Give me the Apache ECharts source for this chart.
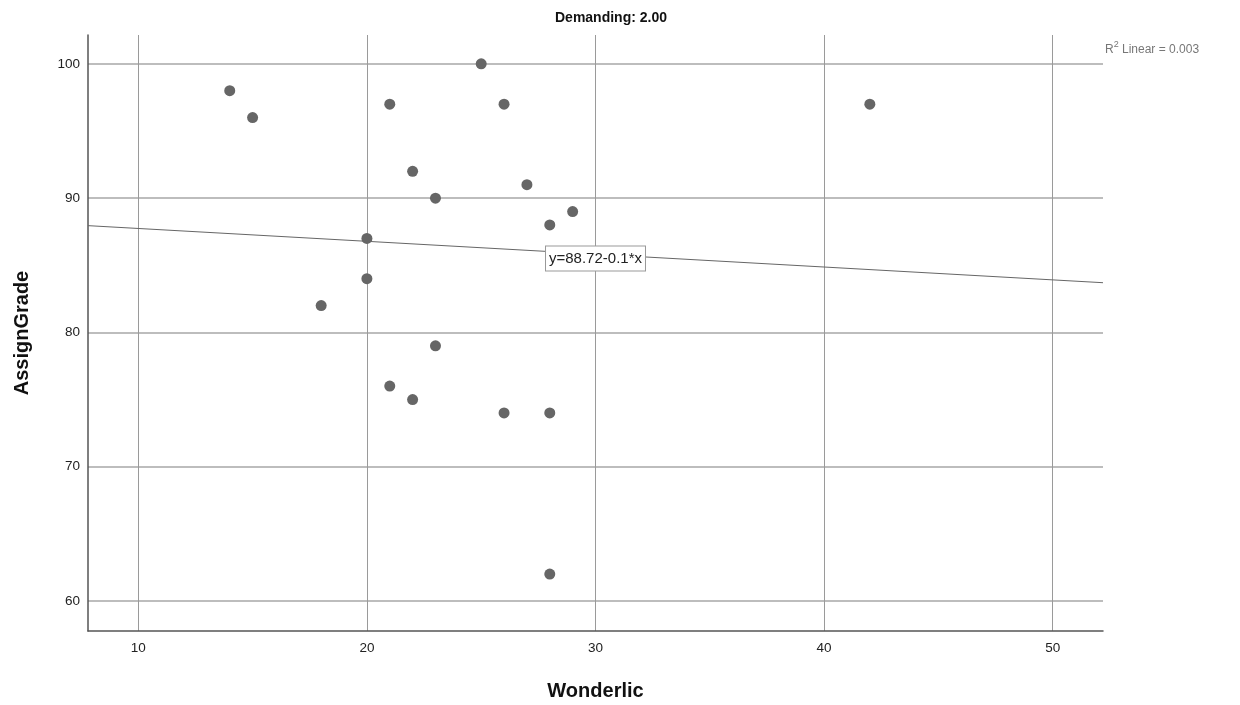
<!DOCTYPE html>
<html>
<head>
<meta charset="utf-8">
<script src="https://cdn.jsdelivr.net/npm/echarts@6/dist/echarts.min.js"></script>
<style>
  html, body { margin: 0; padding: 0; background: #fff; }
  #chart { width: 1240px; height: 705px; }
</style>
</head>
<body>
<div id="chart"></div>
<script>
// Wonderlic vs AssignGrade, Demanding = 2.00
const wonderlic = [14, 15, 21, 25, 26, 42, 22, 23, 27, 28, 29, 20, 20, 18, 23, 21, 22, 26, 28, 28];
const assignGrade = [98, 96, 97, 100, 97, 97, 92, 90, 91, 88, 89, 87, 84, 82, 79, 76, 75, 74, 74, 62];
// fit line ends
const fitX = [7.8, 52.2];
const fitY = [87.95, 83.7];
const fitLabelAt = [30, 85.5];
const fitText = 'y=88.72-0.1*x';
const r2Text = '{a|R}{s|2}{a| Linear = 0.003}';

const points = wonderlic.map((x, i) => [x, assignGrade[i]]);
const fitLine = fitX.map((x, i) => [x, fitY[i]]);

const chart = echarts.init(document.getElementById('chart'));
chart.setOption({
  animation: false,
  backgroundColor: '#fff',
  title: {
    text: 'Demanding: 2.00',
    left: 606, top: 6,
    textAlign: 'center',
    textStyle: { fontFamily: 'Liberation Sans', fontSize: 14, fontWeight: 'bold', color: '#111' }
  },
  grid: { left: 88, right: 137, top: 35, bottom: 74, containLabel: false, outerBoundsMode: 'none' },
  xAxis: {
    type: 'value',
    min: 7.8, max: 52.2,
    minInterval: 10, maxInterval: 10,
    name: 'Wonderlic',
    nameLocation: 'middle',
    nameGap: 50,
    nameTextStyle: { fontFamily: 'Liberation Sans', fontSize: 20, fontWeight: 'bold', color: '#111' },
    axisLine: { show: true, lineStyle: { color: '#555', width: 1.5 } },
    axisTick: { show: false },
    axisLabel: {
      margin: 10, showMinLabel: false, showMaxLabel: false,
      fontFamily: 'Liberation Sans', fontSize: 13.5, color: '#222'
    },
    splitLine: { show: true, showMinLine: false, showMaxLine: false, lineStyle: { color: '#9a9a9a', width: 1 } }
  },
  yAxis: {
    type: 'value',
    min: 57.76, max: 102.15,
    minInterval: 10, maxInterval: 10,
    name: 'AssignGrade',
    nameLocation: 'middle',
    nameGap: 56,
    nameTextStyle: { fontFamily: 'Liberation Sans', fontSize: 20, fontWeight: 'bold', color: '#111' },
    axisLine: { show: true, lineStyle: { color: '#555', width: 1.5 } },
    axisTick: { show: false },
    axisLabel: {
      margin: 8, showMinLabel: false, showMaxLabel: false,
      fontFamily: 'Liberation Sans', fontSize: 13.5, color: '#222'
    },
    splitLine: { show: true, showMinLine: false, showMaxLine: false, lineStyle: { color: '#bdbdbd', width: 2 } }
  },
  graphic: [{
    type: 'text',
    left: 1105, top: 40,
    style: {
      text: r2Text,
      rich: {
        a: { fontFamily: 'Liberation Sans', fontSize: 12, fill: '#777', verticalAlign: 'bottom', lineHeight: 16 },
        s: { fontFamily: 'Liberation Sans', fontSize: 9, fill: '#777', verticalAlign: 'top', lineHeight: 10, padding: [0, 0, 6, 0] }
      }
    }
  }],
  series: [
    {
      type: 'line',
      data: fitLine,
      symbol: 'none',
      silent: true,
      lineStyle: { color: '#666', width: 1 },
      z: 3,
      markPoint: {
        symbol: 'rect',
        symbolSize: 0,
        silent: true,
        data: [{ coord: fitLabelAt }],
        label: {
          show: true,
          formatter: fitText,
          position: 'inside',
          fontFamily: 'Liberation Sans',
          fontSize: 15,
          color: '#222',
          backgroundColor: '#fff',
          borderColor: '#999',
          borderWidth: 1,
          padding: [5, 3, 4, 3]
        }
      }
    },
    {
      type: 'scatter',
      data: points,
      symbol: 'circle',
      symbolSize: 11,
      itemStyle: { color: '#666', opacity: 1 },
      z: 4
    }
  ]
});
</script>
</body>
</html>
